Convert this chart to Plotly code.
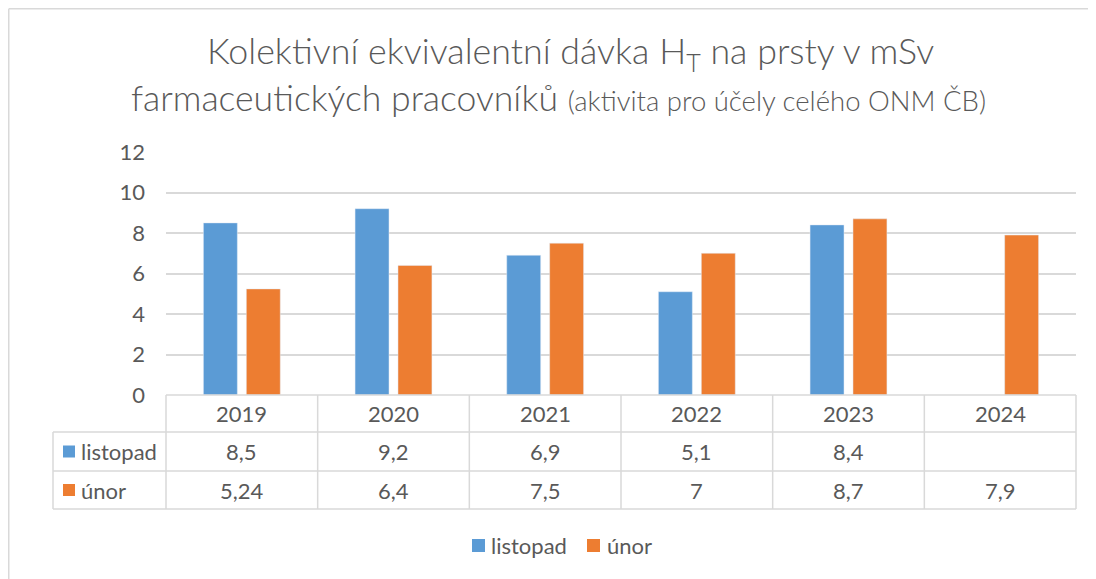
import plotly.graph_objects as go

years = ["2019", "2020", "2021", "2022", "2023", "2024"]
listopad = [8.5, 9.2, 6.9, 5.1, 8.4, None]
unor = [5.24, 6.4, 7.5, 7, 8.7, 7.9]
series_names = ["listopad", "únor"]
y_ticks = [0, 2, 4, 6, 8, 10, 12]

BLUE = "#5B9BD5"
ORANGE = "#ED7D31"
TXT = "#595959"
GRID = "#D9D9D9"
FONT = "Lato"

# page offset (browser body margin)
OFF = 8
W, H = 1096 - OFF, 579 - OFF
# target plot area in screen pixels
SX0, SX1, SY0, SY1 = 166, 1076, 152, 395
L, R, T, B = SX0 - OFF, W - (SX1 - OFF), SY0 - OFF, H - (SY1 - OFF)
PW = W - L - R
PH = H - T - B


def px_x(p):
    return (p - OFF - L) / PW


def px_y(p):
    return (H - B - (p - OFF)) / PH


def fmt(v):
    if v is None:
        return ""
    return ("%g" % v).replace(".", ",")


fig = go.Figure()
fig.add_trace(go.Bar(x=years, y=listopad, name=series_names[0], marker_color=BLUE, showlegend=False))
fig.add_trace(go.Bar(x=years, y=unor, name=series_names[1], marker_color=ORANGE, showlegend=False))

shapes = []
ann = []
n = len(years)
line = dict(color=GRID, width=1.5)

# table lines
row_y = [395, 432, 471, 509]
for i in range(n + 1):
    shapes.append(dict(type="line", xref="paper", yref="paper",
                       x0=i / n, x1=i / n, y0=px_y(row_y[0]), y1=px_y(row_y[3]), line=line))
shapes.append(dict(type="line", xref="paper", yref="paper",
                   x0=px_x(53), x1=px_x(53), y0=px_y(row_y[1]), y1=px_y(row_y[3]), line=line))
for k, yy in enumerate(row_y):
    x0 = 0 if k == 0 else px_x(53)
    shapes.append(dict(type="line", xref="paper", yref="paper",
                       x0=x0, x1=1, y0=px_y(yy), y1=px_y(yy), line=line))

# outer chart border (top and left)
shapes.append(dict(type="line", xref="paper", yref="paper",
                   x0=px_x(OFF + 0.75), x1=px_x(1100), y0=px_y(OFF + 0.75), y1=px_y(OFF + 0.75),
                   line=dict(color="#D9D9D9", width=1.5)))
shapes.append(dict(type="line", xref="paper", yref="paper",
                   x0=px_x(OFF + 0.75), x1=px_x(OFF + 0.75), y0=px_y(OFF + 0.75), y1=px_y(590),
                   line=dict(color="#D9D9D9", width=1.5)))

tf = dict(family=FONT, size=22, color=TXT)
centers_y = [(row_y[0] + row_y[1]) / 2, (row_y[1] + row_y[2]) / 2, (row_y[2] + row_y[3]) / 2]
for i, yr in enumerate(years):
    xc = (i + 0.5) / n
    ann.append(dict(text=yr, x=xc, y=px_y(centers_y[0]), xref="paper", yref="paper",
                    showarrow=False, font=tf, xanchor="center", yanchor="middle"))
    for k, vals in enumerate([listopad, unor]):
        if vals[i] is None:
            continue
        ann.append(dict(text=fmt(vals[i]), x=xc, y=px_y(centers_y[k + 1]), xref="paper", yref="paper",
                        showarrow=False, font=tf, xanchor="center", yanchor="middle"))

# row headers with color keys
for k, (nm, col) in enumerate(zip(series_names, [BLUE, ORANGE])):
    cy = centers_y[k + 1]
    shapes.append(dict(type="rect", xref="paper", yref="paper", x0=px_x(63), x1=px_x(75),
                       y0=px_y(cy + 6), y1=px_y(cy - 6), fillcolor=col, line=dict(width=0)))
    ann.append(dict(text=nm, x=px_x(79), y=px_y(cy), xref="paper", yref="paper",
                    showarrow=False, font=tf, xanchor="left", yanchor="middle"))

# bottom legend
leg_items = [(series_names[0], BLUE, 472, 489), (series_names[1], ORANGE, 587, 605)]
for nm, col, sx, tx in leg_items:
    shapes.append(dict(type="rect", xref="paper", yref="paper", x0=px_x(sx), x1=px_x(sx + 13),
                       y0=px_y(552), y1=px_y(539), fillcolor=col, line=dict(width=0)))
    ann.append(dict(text=nm, x=px_x(tx), y=px_y(545), xref="paper", yref="paper",
                    showarrow=False, font=tf, xanchor="left", yanchor="middle"))

# title
ann.append(dict(text="Kolektivní ekvivalentní dávka H<sub>T</sub> na prsty v mSv",
                x=px_x(570), y=px_y(53), xref="paper", yref="paper",
                showarrow=False, font=dict(family=FONT, size=35.8, color=TXT, weight=300),
                xanchor="center", yanchor="middle"))
ann.append(dict(text="farmaceutických pracovníků <span style='font-size:27.5px'>(aktivita pro účely celého ONM ČB)</span>",
                x=px_x(558), y=px_y(97), xref="paper", yref="paper",
                showarrow=False, font=dict(family=FONT, size=35.6, color=TXT, weight=300),
                xanchor="center", yanchor="middle"))

fig.update_layout(
    width=W, height=H,
    margin=dict(l=L, r=R, t=T, b=B),
    paper_bgcolor="white", plot_bgcolor="white",
    barmode="group", bargap=0.434, bargroupgap=0.209,
    shapes=shapes, annotations=ann,
    font=dict(family=FONT, color=TXT),
    xaxis=dict(showticklabels=False, showgrid=False, zeroline=False, showline=False,
               range=[-0.5, n - 0.5], fixedrange=True),
    yaxis=dict(range=[0, 12], tickvals=y_ticks, showgrid=True, gridcolor=GRID, gridwidth=1.5,
               zeroline=False, showline=False, ticks="", ticklabelstandoff=20,
               tickfont=dict(family=FONT, size=22, color=TXT)),
    showlegend=False,
)

fig.write_html("out.html")
